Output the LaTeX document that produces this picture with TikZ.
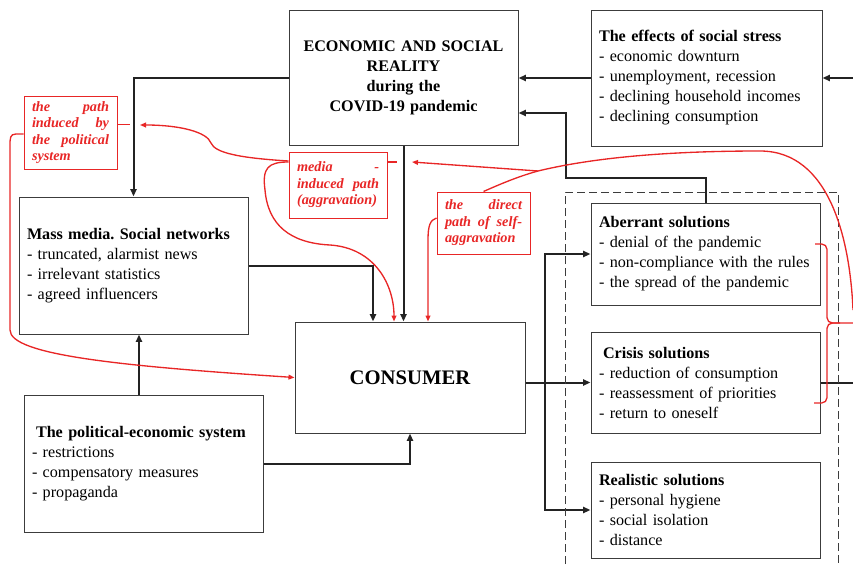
\documentclass[tikz,border=0pt]{standalone}
\usepackage{fontspec}
\setmainfont{Liberation Serif}
\usetikzlibrary{arrows.meta,calc}
\definecolor{pathred}{RGB}{232,38,38}
\definecolor{boxline}{RGB}{60,60,60}
\definecolor{linkgray}{RGB}{35,35,35}
\newcommand\boxfont{\fontsize{12.1pt}{15pt}\selectfont\frenchspacing}
\newcommand\redfont{\fontsize{10.7pt}{12.4pt}\selectfont\bfseries\itshape}

\begin{document}
\begin{tikzpicture}[x=0.75pt,y=-0.75pt,
  box/.style={draw=boxline,line width=0.75pt,inner xsep=6pt,inner ysep=0pt,font=\boxfont,align=left},
  redbox/.style={draw=pathred,line width=0.75pt,text=pathred,inner xsep=6pt,inner ysep=0pt,font=\redfont,align=left},
  link/.style={draw=linkgray,line width=1.5pt,-{Triangle[length=5.5pt,width=4.5pt]}},
  plainlink/.style={draw=linkgray,line width=1.5pt},
  redlink/.style={draw=pathred,line width=1pt,-{Triangle[length=4.5pt,width=3.6pt]}},
  redline/.style={draw=pathred,line width=1pt}]
  \useasboundingbox (0,0) rectangle (853,564);

  \node[box,text width=159.75pt,minimum height=101.25pt,align=center,font=\boxfont\bfseries] (reality) at (403.5,77.5)
    {ECONOMIC AND SOCIAL\\REALITY\\during the\\COVID-19 pandemic};
  \node[box,text width=161.25pt,minimum height=102pt] (stress) at (706.5,78)
    {\textbf{The effects of social stress}\\- economic downturn\\- unemployment, recession\\- declining household incomes\\- declining consumption};
  \node[box,text width=159.75pt,minimum height=102.75pt] (media) at (133.5,265.5)
    {\textbf{Mass media. Social networks}\\- truncated, alarmist news\\- irrelevant statistics\\- agreed influencers};
  \node[box,text width=160.5pt,minimum height=83.25pt,align=center,font=\fontsize{15.5pt}{18pt}\selectfont\bfseries] (consumer) at (410,377.5) {CONSUMER};
  \node[box,text width=167.25pt,minimum height=102.75pt] (politic) at (143.5,463.5)
    {\hspace*{3pt}\textbf{The political-economic system}\\- restrictions\\- compensatory measures\\- propaganda};
  \node[box,text width=159.75pt,minimum height=76.5pt] (aberrant) at (705.5,254)
    {\textbf{Aberrant solutions}\\- denial of the pandemic\\- non-compliance with the rules\\- the spread of the pandemic};
  \node[box,text width=159.75pt,minimum height=75.75pt] (crisis) at (705.5,382.5)
    {\hspace*{3pt}\textbf{Crisis solutions}\\- reduction of consumption\\- reassessment of priorities\\- return to oneself};
  \node[box,text width=159.75pt,minimum height=72pt] (realistic) at (705.5,510)
    {\textbf{Realistic solutions}\\- personal hygiene\\- social isolation\\- distance};

  % the three paths
  \node[redbox,text width=57.75pt,minimum height=54.75pt] (polpath) at (70.5,132.5)
    {the\hfill path\\induced\hfill by\\the\hfill political\\system};
  \node[redbox,text width=61.5pt,minimum height=49.5pt] (mediapath) at (338,185)
    {media\hfill -\\induced\hfill path\\(aggravation)};
  \node[redbox,text width=57.75pt,minimum height=46.5pt] (selfpath) at (483.5,223)
    {the\hfill direct\\path\hfill of\hfill self-\\aggravation};

  \coordinate (feedin) at (853,78);
  \coordinate (feedout) at (853,382.5);
  \coordinate (hub) at (545,382.5);
  \coordinate (poltip) at (140,125);
  \coordinate (medtip) at (412,162);
  \coordinate (fork) at (538,171);

  \draw[link] (reality.west) -| (media.north);
  \draw[link] (stress.west) -- (stress.west -| reality.east);
  \draw[link] (feedin) -- (stress.east);
  \draw[link] (aberrant.north) -- ++(0,-25) -| ($(reality.east)+(47,35.5)$) -- ($(reality.east)+(0,35.5)$);
  \draw[link] (reality.south) -- (reality.south |- consumer.north);
  \draw[link] (media.east) -| ($(consumer.north)+(-37,0)$);
  \draw[link] ($(politic.north)+(-4.5,0)$) -- ($(media.south)+(5.5,0)$);
  \draw[link] (politic.east) -| (consumer.south);
  \draw[link] (consumer.east |- crisis.west) -- (crisis.west);
  \draw[link] (hub) |- (aberrant.west);
  \draw[link] (hub) |- (realistic.west);
  \draw[plainlink] (crisis.east) -- (feedout);
  \draw[boxline,line width=0.75pt,dash pattern=on 6pt off 3pt] (565,564) -- (565,192) -- (838,192) -- (838,564);

  \draw[redline] ($(polpath.east)+(0,-8)$) -- ++(12,0);
  \draw[redline] ($(mediapath.east)+(0,-23)$) -- ++(9,0);
  \draw[redlink] ($(mediapath.west)+(0,-24)$) .. controls (240,158) and (215,153) .. (211,143)
    .. controls (207,132) and (180,125) .. (poltip);
  \draw[redlink] ($(mediapath.west)+(0,-23)$) .. controls (268,162) and (262,168) .. (265,190)
    .. controls (268,225) and (290,243) .. (330,245)
    .. controls (375,248) and (394,285) .. ($(consumer.north)+(-16,0)$);
  \draw[redlink] ($(selfpath.west)+(0,-5)$) .. controls (430,220) and (428,226) .. (428,240) -- ($(consumer.north)+(18,0)$);
  \draw[redlink] ($(polpath.west)+(0,1.5)$) -- (16,134) .. controls (10,134) and (10,138) .. (10,146) -- (10,330)
    .. controls (10,355) and (120,366) .. (consumer.west);
  \draw[redline] (selfpath.north) .. controls (505,182) and (520,176) .. (fork)
    .. controls (600,156) and (680,151) .. (760,151) .. controls (830,151) and (850,240) .. (853,310);
  \draw[redlink] (fork) -- (medtip);
  % brace over aberrant and crisis
  \draw[redline,rounded corners=4pt] (815,244) -| (827,323) -- (853,323);
  \draw[redline,rounded corners=4pt] (814,403) -| (827,323) -- (840,323);
\end{tikzpicture}
\end{document}
